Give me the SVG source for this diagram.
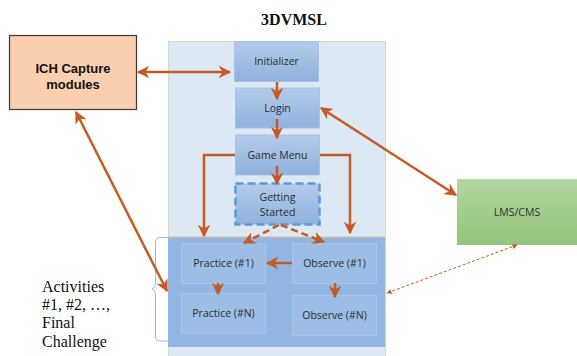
<svg xmlns="http://www.w3.org/2000/svg" width="577" height="356" viewBox="0 0 577 356">
<defs>
  <linearGradient id="gBlue" x1="0" y1="0" x2="0" y2="1">
    <stop offset="0" stop-color="#b4cbea"/>
    <stop offset="1" stop-color="#8fb1dd"/>
  </linearGradient>
  <linearGradient id="gGreen" x1="0" y1="0" x2="0" y2="1">
    <stop offset="0" stop-color="#b3d59e"/>
    <stop offset="1" stop-color="#94c47c"/>
  </linearGradient>
  <marker id="ah" viewBox="0 0 10 10" refX="9" refY="5" markerWidth="5" markerHeight="5" orient="auto-start-reverse" markerUnits="strokeWidth">
    <path d="M0,0 L10,5 L0,10 L3,5 z" fill="#c55a22"/>
  </marker>
  <marker id="ahs" viewBox="0 0 10 10" refX="9" refY="5" markerWidth="5" markerHeight="5" orient="auto-start-reverse" markerUnits="strokeWidth">
    <path d="M0,0 L10,5 L0,10 z" fill="#c55a22"/>
  </marker>
  <style>
    .node { fill: url(#gBlue); stroke: #a8c2e4; stroke-width: 1; }
    .inner { fill: #9ebee6; stroke: #a9c5ea; stroke-width: 1; fill-opacity: 0.85; }
    .lbl { font-family: "Open Sans", "Liberation Sans", sans-serif; font-size: 10.5px; fill: #2e2e2e; text-anchor: middle; }
    .con { fill: none; stroke: #c55a22; stroke-width: 2.5; }
    .dcon { fill: none; stroke: #c55a22; stroke-width: 2.5; stroke-dasharray: 7 4; }
    .thin { fill: none; stroke: #c55a22; stroke-width: 1; stroke-dasharray: 3 2; }
    .serif { font-family: "Liberation Serif", "Times New Roman", serif; fill: #111; }
  </style>
</defs>
<rect width="577" height="356" fill="#ffffff"/>
<text class="serif" x="294" y="25" font-size="16" font-weight="bold" text-anchor="middle">3DVMSL</text>

<g id="container">
  <rect x="168.5" y="41.5" width="217" height="320" fill="#dce9f5" stroke="#c9e0bd" stroke-width="1"/>
</g>
<g id="activities">
  <rect x="168" y="237" width="217" height="110" fill="#8db3e1" fill-opacity="0.95"/>
  <line x1="168" y1="237" x2="385" y2="237" stroke="#e3b892" stroke-width="1"/>
  <path d="M168,237.5 L160,237.5 Q155.5,237.5 155.5,242 L155.5,284 Q155.5,288 152,289 Q155.5,290 155.5,294 L155.5,336 Q155.5,341 160,341 L168,341" fill="none" stroke="#a6b8cf" stroke-width="1"/>
</g>

<g id="ich">
  <rect x="9.5" y="35.5" width="127" height="74" fill="#f9cfb0" stroke="#3a3a3a" stroke-width="1.2"/>
  <text x="73" y="73" font-family="Liberation Sans, Arial, sans-serif" font-size="13" font-weight="bold" text-anchor="middle" fill="#111">ICH Capture</text>
  <text x="73" y="89" font-family="Liberation Sans, Arial, sans-serif" font-size="13" font-weight="bold" text-anchor="middle" fill="#111">modules</text>
</g>
<g id="initializer">
  <rect class="node" x="234.5" y="41.5" width="84" height="40"/>
  <text class="lbl" x="276.5" y="65">Initializer</text>
</g>
<g id="login">
  <rect class="node" x="235.5" y="88" width="84" height="40"/>
  <text class="lbl" x="277.5" y="112">Login</text>
</g>
<g id="gamemenu">
  <rect class="node" x="235.5" y="135" width="84" height="40"/>
  <text class="lbl" x="277.5" y="159">Game Menu</text>
</g>
<g id="gettingstarted">
  <rect x="235.5" y="183.5" width="84" height="41" fill="url(#gBlue)" stroke="#5b9bd5" stroke-width="2.5" stroke-dasharray="8 4"/>
  <text class="lbl" x="277.5" y="201">Getting</text>
  <text class="lbl" x="277.5" y="216">Started</text>
</g>
<g id="practice1">
  <rect class="inner" x="181.5" y="243.5" width="84" height="40"/>
  <text class="lbl" x="223.5" y="267">Practice (#1)</text>
</g>
<g id="practiceN">
  <rect class="inner" x="181.5" y="293.5" width="84" height="40"/>
  <text class="lbl" x="223.5" y="317">Practice (#N)</text>
</g>
<g id="observe1">
  <rect class="inner" x="292.5" y="243.5" width="84" height="40"/>
  <text class="lbl" x="334.5" y="267">Observe (#1)</text>
</g>
<g id="observeN">
  <rect class="inner" x="292.5" y="295.5" width="84" height="40"/>
  <text class="lbl" x="334.5" y="319">Observe (#N)</text>
</g>
<g id="lms">
  <rect x="457" y="179" width="120" height="66" fill="url(#gGreen)"/>
  <text class="lbl" x="517" y="216">LMS/CMS</text>
</g>

<g id="activities-label">
  <text class="serif" font-size="16" x="42" y="292">Activities</text>
  <text class="serif" font-size="16" x="42" y="310">#1, #2, …,</text>
  <text class="serif" font-size="16" x="42" y="328">Final</text>
  <text class="serif" font-size="16" x="42" y="347">Challenge</text>
</g>

<g id="connectors">
  <path class="con" d="M138,72 L230,72" marker-start="url(#ah)" marker-end="url(#ah)"/>
  <path class="con" d="M277,82 L277,99" marker-end="url(#ah)"/>
  <path class="con" d="M277,119 L277,138" marker-end="url(#ah)"/>
  <path class="con" d="M277,166 L277,184" marker-end="url(#ah)"/>
  <path class="con" d="M235,155 L204,155 L204,236" marker-end="url(#ah)"/>
  <path class="con" d="M320,155 L350,155 L350,233" marker-end="url(#ah)"/>
  <path class="dcon" d="M279,225 L244,243" marker-end="url(#ah)"/>
  <path class="dcon" d="M281,225 L324,242" marker-end="url(#ah)"/>
  <path class="con" d="M292,263 L267,263" marker-end="url(#ah)"/>
  <path class="con" d="M218,283 L218,294" marker-end="url(#ah)"/>
  <path class="con" d="M335,283 L335,297" marker-end="url(#ah)"/>
  <path class="con" d="M76,112 L167,291" marker-start="url(#ah)" marker-end="url(#ah)"/>
  <path class="con" d="M321,108 L456,195" marker-start="url(#ah)" marker-end="url(#ah)"/>
  <path class="thin" d="M517,245 L387,293" marker-start="url(#ahs)" marker-end="url(#ahs)"/>
</g>
</svg>
